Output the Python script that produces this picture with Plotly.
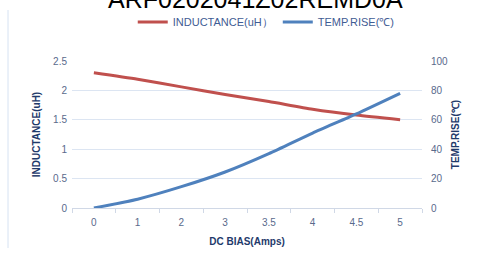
import plotly.graph_objects as go

title_text = "ARF0202041Z02REMD0A"
dc_bias = ["0", "1", "2", "3", "3.5", "4", "4.5", "5"]
inductance = [2.30, 2.19, 2.06, 1.93, 1.81, 1.68, 1.58, 1.50]
temp_rise = [0, 6, 14.5, 24.5, 37, 51, 64, 78]
left_ticks = [0, 0.5, 1, 1.5, 2, 2.5]
left_labels = ["0", "0.5", "1", "1.5", "2", "2.5"]
right_ticks = [0, 20, 40, 60, 80, 100]

RED = "#C0504D"
BLUE = "#4F81BD"
TICK = "#596A8C"
TITLE = "#1F3A6B"
GRID = "#DCE5F2"

fig = go.Figure()
fig.add_trace(go.Scatter(x=dc_bias, y=inductance, mode="lines", name="INDUCTANCE(uH）",
                         line=dict(color=RED, width=3, shape="spline", smoothing=0.6)))
fig.add_trace(go.Scatter(x=dc_bias, y=temp_rise, mode="lines", name="TEMP.RISE(℃)",
                         yaxis="y2",
                         line=dict(color=BLUE, width=3, shape="spline", smoothing=0.6)))

font_fam = "Liberation Sans, Arial, sans-serif"

fig.update_layout(
    width=478, height=254,
    margin=dict(l=72, r=56, t=61, b=46, autoexpand=False),
    paper_bgcolor="white", plot_bgcolor="white",
    font=dict(family=font_fam, size=10, color=TICK),
    showlegend=True,
    legend=dict(orientation="h", x=0.555, xanchor="center",
                yref="container", y=1 - 22 / 254, yanchor="middle",
                font=dict(size=11, color="#3F5C94"), itemwidth=30,
                bgcolor="rgba(0,0,0,0)", tracegroupgap=0),
    xaxis=dict(type="category", range=[-0.5, 7.5], showgrid=False, tickson="boundaries",
               ticks="outside", ticklen=4, tickcolor="#D0D8E6",
               showline=True, linecolor="#D0D8E6", linewidth=1,
               ticklabelstandoff=5,
               tickfont=dict(size=10, color=TICK),
               title=dict(text="<b>DC BIAS(Amps)</b>", font=dict(size=10, color=TITLE), standoff=10)),
    yaxis=dict(range=[0, 2.5], tickvals=left_ticks, ticktext=left_labels,
               showgrid=True, gridcolor=GRID, gridwidth=1, zeroline=False,
               ticks="", ticklabelstandoff=4, tickfont=dict(size=10, color=TICK),
               title=dict(text="<b>INDUCTANCE(uH)</b>", font=dict(size=10, color=TITLE), standoff=10)),
    yaxis2=dict(range=[0, 100], tickvals=right_ticks, overlaying="y", side="right",
                showgrid=False, zeroline=False, ticks="", ticklabelstandoff=8,
                tickfont=dict(size=10, color=TICK),
                title=dict(text="<b>TEMP.RISE(℃)</b>", font=dict(size=10, color=TITLE), standoff=4)),
)

fig.add_annotation(text=title_text, xref="paper", yref="paper", x=0.523, y=1.0,
                   xanchor="center", yanchor="bottom", yshift=46, showarrow=False,
                   font=dict(size=25, color="black", family="Liberation Sans, Arial, sans-serif"))

fig.add_shape(type="line", xref="paper", yref="paper",
              x0=(8 - 72) / 350, x1=(8 - 72) / 350, y0=(208 - 248) / 147, y1=(208 - 10) / 147,
              line=dict(color="#D6E2F2", width=1))

fig.write_html("out.html", config={"displayModeBar": False},
               post_script="document.body.style.margin='0';")
